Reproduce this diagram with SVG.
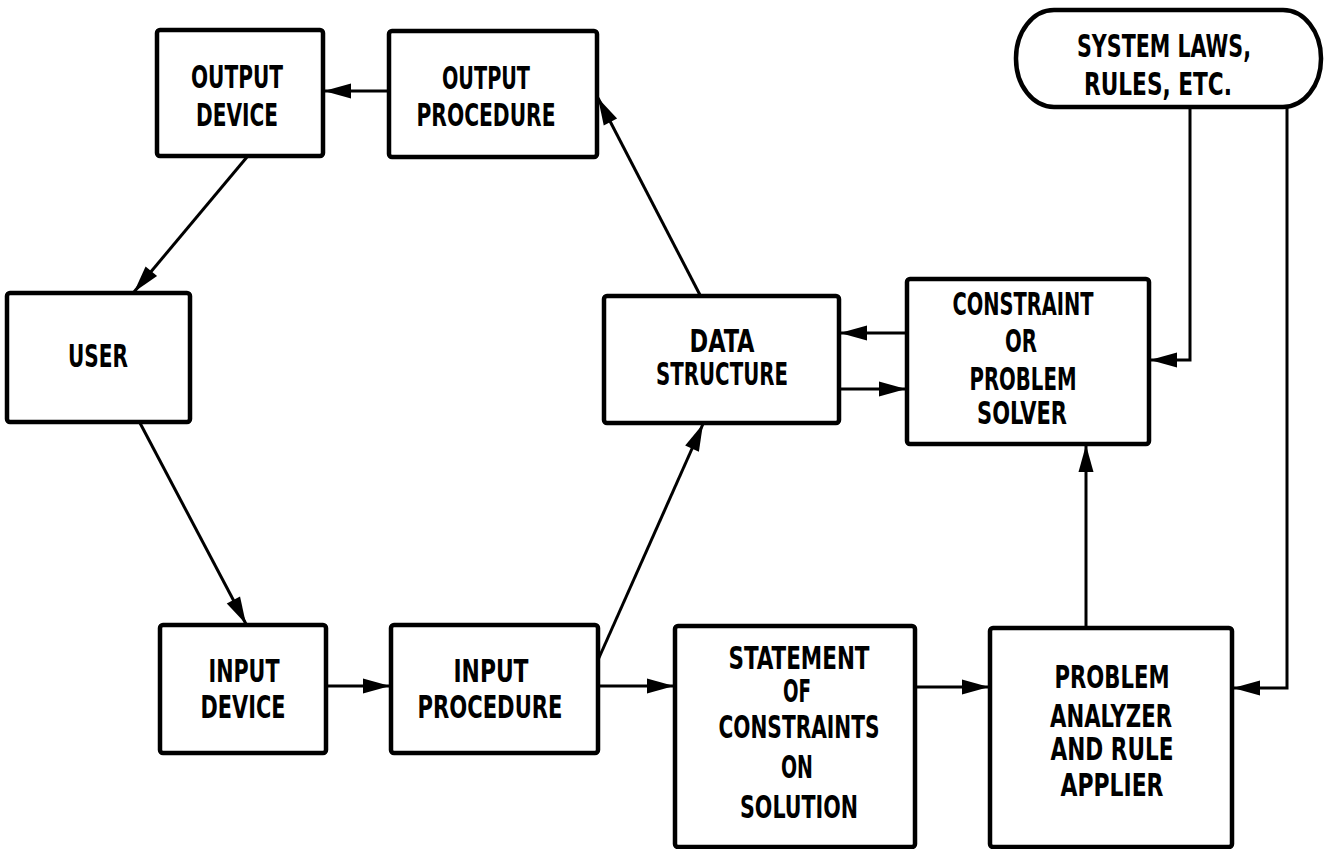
<svg xmlns="http://www.w3.org/2000/svg" width="1330" height="849" viewBox="0 0 1330 849">
<defs>
<style>
.box{fill:#fff;stroke:#000;stroke-width:4.5}
.cn{fill:none;stroke:#000;stroke-width:3;marker-end:url(#ah)}
text{font-family:"Liberation Sans Narrow","DejaVu Sans Condensed","Liberation Sans",sans-serif;font-weight:bold;font-size:31.5px;text-anchor:middle;fill:#000}
</style>
<marker id="ah" markerUnits="userSpaceOnUse" markerWidth="28" markerHeight="16" refX="27" refY="7.5" orient="auto" overflow="visible">
<path d="M0,0 L27,7.5 L0,15 Z" fill="#000"/>
</marker>
</defs>
<rect width="1330" height="849" fill="#fff"/>
<g id="connectors">
<line class="cn" x1="389" y1="91" x2="324" y2="91"/>
<line class="cn" x1="247" y1="157" x2="134" y2="292"/>
<line class="cn" x1="140" y1="423" x2="246" y2="624"/>
<line class="cn" x1="327" y1="686" x2="390" y2="686"/>
<line class="cn" x1="599" y1="686" x2="674" y2="686"/>
<line class="cn" x1="598" y1="660" x2="703" y2="424"/>
<line class="cn" x1="700" y1="295" x2="598" y2="98"/>
<line class="cn" x1="907" y1="333" x2="840" y2="333"/>
<line class="cn" x1="840" y1="389" x2="906" y2="389"/>
<polyline class="cn" points="1190,107 1190,360 1150,360"/>
<polyline class="cn" points="1287,107 1287,688 1233,688"/>
<line class="cn" x1="916" y1="687" x2="989" y2="687"/>
<line class="cn" x1="1086" y1="627" x2="1086" y2="445"/>
</g>
<g id="output-device">
<rect class="box" x="157" y="30" width="166" height="126" rx="3"/>
<text x="237" y="88" textLength="92" lengthAdjust="spacingAndGlyphs">OUTPUT</text>
<text x="237" y="126" textLength="82" lengthAdjust="spacingAndGlyphs">DEVICE</text>
</g>
<g id="output-procedure">
<rect class="box" x="389" y="31" width="208" height="126" rx="3"/>
<text x="486" y="89" textLength="88" lengthAdjust="spacingAndGlyphs">OUTPUT</text>
<text x="486" y="126" textLength="139" lengthAdjust="spacingAndGlyphs">PROCEDURE</text>
</g>
<g id="user">
<rect class="box" x="7" y="293" width="183" height="129" rx="3"/>
<text x="98" y="367" textLength="60" lengthAdjust="spacingAndGlyphs">USER</text>
</g>
<g id="system-laws">
<rect class="box" x="1016" y="10" width="305" height="97" rx="38" ry="48"/>
<text x="1164" y="57" textLength="174" lengthAdjust="spacingAndGlyphs">SYSTEM LAWS,</text>
<text x="1158" y="95" textLength="148" lengthAdjust="spacingAndGlyphs">RULES, ETC.</text>
</g>
<g id="data-structure">
<rect class="box" x="604" y="296" width="235" height="127" rx="3"/>
<text x="722" y="352" textLength="65" lengthAdjust="spacingAndGlyphs">DATA</text>
<text x="722" y="385" textLength="132" lengthAdjust="spacingAndGlyphs">STRUCTURE</text>
</g>
<g id="constraint-solver">
<rect class="box" x="907" y="279" width="242" height="165" rx="3"/>
<text x="1023" y="315" textLength="141" lengthAdjust="spacingAndGlyphs">CONSTRAINT</text>
<text x="1021" y="352" textLength="32" lengthAdjust="spacingAndGlyphs">OR</text>
<text x="1023" y="390" textLength="107" lengthAdjust="spacingAndGlyphs">PROBLEM</text>
<text x="1022" y="424" textLength="90" lengthAdjust="spacingAndGlyphs">SOLVER</text>
</g>
<g id="input-device">
<rect class="box" x="160" y="625" width="166" height="128" rx="3"/>
<text x="244" y="682" textLength="71" lengthAdjust="spacingAndGlyphs">INPUT</text>
<text x="243" y="718" textLength="85" lengthAdjust="spacingAndGlyphs">DEVICE</text>
</g>
<g id="input-procedure">
<rect class="box" x="391" y="625" width="207" height="128" rx="3"/>
<text x="491" y="682" textLength="75" lengthAdjust="spacingAndGlyphs">INPUT</text>
<text x="490" y="718" textLength="145" lengthAdjust="spacingAndGlyphs">PROCEDURE</text>
</g>
<g id="statement">
<rect class="box" x="675" y="626" width="240" height="221" rx="3"/>
<text x="799" y="669" textLength="141" lengthAdjust="spacingAndGlyphs">STATEMENT</text>
<text x="797" y="702" textLength="28" lengthAdjust="spacingAndGlyphs">OF</text>
<text x="799" y="738" textLength="161" lengthAdjust="spacingAndGlyphs">CONSTRAINTS</text>
<text x="797" y="778" textLength="32" lengthAdjust="spacingAndGlyphs">ON</text>
<text x="799" y="818" textLength="118" lengthAdjust="spacingAndGlyphs">SOLUTION</text>
</g>
<g id="problem-analyzer">
<rect class="box" x="990" y="628" width="242" height="219" rx="3"/>
<text x="1112" y="688" textLength="115" lengthAdjust="spacingAndGlyphs">PROBLEM</text>
<text x="1111" y="727" textLength="122" lengthAdjust="spacingAndGlyphs">ANALYZER</text>
<text x="1112" y="760" textLength="123" lengthAdjust="spacingAndGlyphs">AND RULE</text>
<text x="1112" y="796" textLength="103" lengthAdjust="spacingAndGlyphs">APPLIER</text>
</g>
</svg>
